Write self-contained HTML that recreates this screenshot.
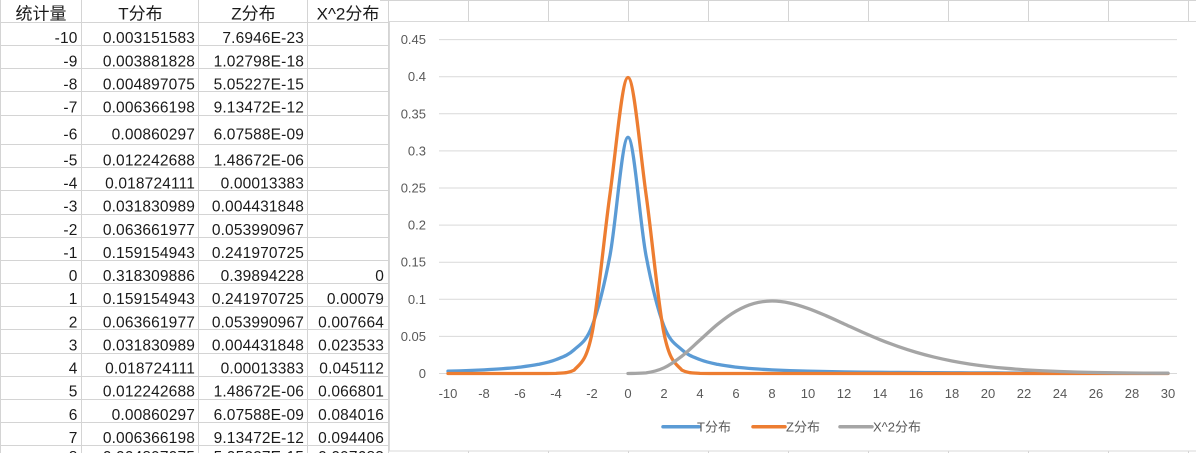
<!DOCTYPE html>
<html><head><meta charset="utf-8">
<style>
html,body{margin:0;padding:0;background:#fff;width:1196px;height:453px;overflow:hidden}
svg{display:block}
.c{font-family:"Liberation Sans","Noto Sans CJK SC",sans-serif;font-size:15.5px;letter-spacing:0.15px;fill:#1a1a1a;text-anchor:end}
.h{font-family:"Liberation Sans","Noto Sans CJK SC",sans-serif;font-size:17px;fill:#1a1a1a;text-anchor:middle}
.ax{font-family:"Liberation Sans","Noto Sans CJK SC",sans-serif;font-size:13px;fill:#595959}
</style></head><body>
<svg id="s" width="1196" height="453" viewBox="0 0 1196 453" xmlns="http://www.w3.org/2000/svg">
<rect x="0" y="0" width="1196" height="453" fill="#fff"/>
<g stroke="#D4D4D4" stroke-width="1">
<line x1="0.5" y1="0" x2="0.5" y2="453"/>
<line x1="81.5" y1="0" x2="81.5" y2="453"/>
<line x1="198.5" y1="0" x2="198.5" y2="453"/>
<line x1="307.5" y1="0" x2="307.5" y2="453"/>
<line x1="388.5" y1="0" x2="388.5" y2="453"/>
<line x1="380" y1="0.5" x2="1196" y2="0.5"/>
<line x1="0" y1="22.5" x2="389" y2="22.5"/>
<line x1="0" y1="45.5" x2="389" y2="45.5"/>
<line x1="0" y1="68.5" x2="389" y2="68.5"/>
<line x1="0" y1="91.5" x2="389" y2="91.5"/>
<line x1="0" y1="115.5" x2="389" y2="115.5"/>
<line x1="0" y1="144.5" x2="389" y2="144.5"/>
<line x1="0" y1="167.5" x2="389" y2="167.5"/>
<line x1="0" y1="190.5" x2="389" y2="190.5"/>
<line x1="0" y1="214.5" x2="389" y2="214.5"/>
<line x1="0" y1="237.5" x2="389" y2="237.5"/>
<line x1="0" y1="260.5" x2="389" y2="260.5"/>
<line x1="0" y1="283.5" x2="389" y2="283.5"/>
<line x1="0" y1="306.5" x2="389" y2="306.5"/>
<line x1="0" y1="329.5" x2="389" y2="329.5"/>
<line x1="0" y1="353.5" x2="389" y2="353.5"/>
<line x1="0" y1="376.5" x2="389" y2="376.5"/>
<line x1="0" y1="399.5" x2="389" y2="399.5"/>
<line x1="0" y1="422.5" x2="389" y2="422.5"/>
<line x1="0" y1="445.5" x2="389" y2="445.5"/>
<line x1="468.5" y1="0" x2="468.5" y2="453"/>
<line x1="548.5" y1="0" x2="548.5" y2="453"/>
<line x1="628.5" y1="0" x2="628.5" y2="453"/>
<line x1="708.5" y1="0" x2="708.5" y2="453"/>
<line x1="788.5" y1="0" x2="788.5" y2="453"/>
<line x1="868.5" y1="0" x2="868.5" y2="453"/>
<line x1="948.5" y1="0" x2="948.5" y2="453"/>
<line x1="1028.5" y1="0" x2="1028.5" y2="453"/>
<line x1="1108.5" y1="0" x2="1108.5" y2="453"/>
<line x1="1188.5" y1="0" x2="1188.5" y2="453"/>
</g>

<!-- header -->
<text class="h" x="41" y="19.5">统计量</text>
<text class="h" x="140.5" y="19.5">T分布</text>
<text class="h" x="253.5" y="19.5">Z分布</text>
<text class="h" x="348" y="19.5">X^2分布</text>

<!-- rows -->
<text class="c" x="77.5" y="43.2">-10</text><text class="c" x="195" y="43.2">0.003151583</text><text class="c" x="304" y="43.2">7.6946E-23</text>
<text class="c" x="77.5" y="66.3">-9</text><text class="c" x="195" y="66.3">0.003881828</text><text class="c" x="304" y="66.3">1.02798E-18</text>
<text class="c" x="77.5" y="89.5">-8</text><text class="c" x="195" y="89.5">0.004897075</text><text class="c" x="304" y="89.5">5.05227E-15</text>
<text class="c" x="77.5" y="112.6">-7</text><text class="c" x="195" y="112.6">0.006366198</text><text class="c" x="304" y="112.6">9.13472E-12</text>
<text class="c" x="77.5" y="139.3">-6</text><text class="c" x="195" y="139.3">0.00860297</text><text class="c" x="304" y="139.3">6.07588E-09</text>
<text class="c" x="77.5" y="165.4">-5</text><text class="c" x="195" y="165.4">0.012242688</text><text class="c" x="304" y="165.4">1.48672E-06</text>
<text class="c" x="77.5" y="188.6">-4</text><text class="c" x="195" y="188.6">0.018724111</text><text class="c" x="304" y="188.6">0.00013383</text>
<text class="c" x="77.5" y="211.7">-3</text><text class="c" x="195" y="211.7">0.031830989</text><text class="c" x="304" y="211.7">0.004431848</text>
<text class="c" x="77.5" y="234.8">-2</text><text class="c" x="195" y="234.8">0.063661977</text><text class="c" x="304" y="234.8">0.053990967</text>
<text class="c" x="77.5" y="258">-1</text><text class="c" x="195" y="258">0.159154943</text><text class="c" x="304" y="258">0.241970725</text>
<text class="c" x="77.5" y="281.1">0</text><text class="c" x="195" y="281.1">0.318309886</text><text class="c" x="304" y="281.1">0.39894228</text><text class="c" x="384" y="281.1">0</text>
<text class="c" x="77.5" y="304.2">1</text><text class="c" x="195" y="304.2">0.159154943</text><text class="c" x="304" y="304.2">0.241970725</text><text class="c" x="384" y="304.2">0.00079</text>
<text class="c" x="77.5" y="327.3">2</text><text class="c" x="195" y="327.3">0.063661977</text><text class="c" x="304" y="327.3">0.053990967</text><text class="c" x="384" y="327.3">0.007664</text>
<text class="c" x="77.5" y="350.5">3</text><text class="c" x="195" y="350.5">0.031830989</text><text class="c" x="304" y="350.5">0.004431848</text><text class="c" x="384" y="350.5">0.023533</text>
<text class="c" x="77.5" y="373.6">4</text><text class="c" x="195" y="373.6">0.018724111</text><text class="c" x="304" y="373.6">0.00013383</text><text class="c" x="384" y="373.6">0.045112</text>
<text class="c" x="77.5" y="396.7">5</text><text class="c" x="195" y="396.7">0.012242688</text><text class="c" x="304" y="396.7">1.48672E-06</text><text class="c" x="384" y="396.7">0.066801</text>
<text class="c" x="77.5" y="419.8">6</text><text class="c" x="195" y="419.8">0.00860297</text><text class="c" x="304" y="419.8">6.07588E-09</text><text class="c" x="384" y="419.8">0.084016</text>
<text class="c" x="77.5" y="443">7</text><text class="c" x="195" y="443">0.006366198</text><text class="c" x="304" y="443">9.13472E-12</text><text class="c" x="384" y="443">0.094406</text>
<text class="c" x="77.5" y="462">8</text><text class="c" x="195" y="462">0.004897075</text><text class="c" x="304" y="462">5.05227E-15</text><text class="c" x="384" y="462">0.097683</text>

<!-- chart -->
<rect x="389.5" y="21.5" width="820" height="429.5" fill="#fff" stroke="#D9D9D9" stroke-width="1"/>
<g stroke="#D9D9D9" stroke-width="1">
<line x1="439" y1="373.5" x2="1177" y2="373.5"/>
<line x1="439" y1="336.4" x2="1177" y2="336.4"/>
<line x1="439" y1="299.3" x2="1177" y2="299.3"/>
<line x1="439" y1="262.2" x2="1177" y2="262.2"/>
<line x1="439" y1="225.1" x2="1177" y2="225.1"/>
<line x1="439" y1="188" x2="1177" y2="188"/>
<line x1="439" y1="150.9" x2="1177" y2="150.9"/>
<line x1="439" y1="113.8" x2="1177" y2="113.8"/>
<line x1="439" y1="76.7" x2="1177" y2="76.7"/>
<line x1="439" y1="39.6" x2="1177" y2="39.6"/>
</g>
<g class="ax" text-anchor="end">
<text x="426" y="378">0</text>
<text x="426" y="340.9">0.05</text>
<text x="426" y="303.8">0.1</text>
<text x="426" y="266.7">0.15</text>
<text x="426" y="229.6">0.2</text>
<text x="426" y="192.5">0.25</text>
<text x="426" y="155.4">0.3</text>
<text x="426" y="118.3">0.35</text>
<text x="426" y="81.2">0.4</text>
<text x="426" y="44.1">0.45</text>
</g>
<g class="ax" text-anchor="middle">
<text x="448" y="398">-10</text>
<text x="484" y="398">-8</text>
<text x="520" y="398">-6</text>
<text x="556" y="398">-4</text>
<text x="592" y="398">-2</text>
<text x="628" y="398">0</text>
<text x="664" y="398">2</text>
<text x="700" y="398">4</text>
<text x="736" y="398">6</text>
<text x="772" y="398">8</text>
<text x="808" y="398">10</text>
<text x="844" y="398">12</text>
<text x="880" y="398">14</text>
<text x="916" y="398">16</text>
<text x="952" y="398">18</text>
<text x="988" y="398">20</text>
<text x="1024" y="398">22</text>
<text x="1060" y="398">24</text>
<text x="1096" y="398">26</text>
<text x="1132" y="398">28</text>
<text x="1168" y="398">30</text>
</g>
<path id="pT" d="" fill="none" stroke="#5B9BD5" stroke-width="3.3" stroke-linecap="round" stroke-linejoin="round"/>
<path id="pZ" d="" fill="none" stroke="#ED7D31" stroke-width="3.3" stroke-linecap="round" stroke-linejoin="round"/>
<path id="pX" d="" fill="none" stroke="#A5A5A5" stroke-width="3.3" stroke-linecap="round" stroke-linejoin="round"/>

<!-- legend -->
<line x1="663" y1="426.7" x2="699" y2="426.7" stroke="#5B9BD5" stroke-width="3.5" stroke-linecap="round"/>
<text class="ax" x="697" y="431.3">T分布</text>
<line x1="753" y1="426.7" x2="785" y2="426.7" stroke="#ED7D31" stroke-width="3.5" stroke-linecap="round"/>
<text class="ax" x="786" y="431.3">Z分布</text>
<line x1="840" y1="426.7" x2="872" y2="426.7" stroke="#A5A5A5" stroke-width="3.5" stroke-linecap="round"/>
<text class="ax" x="873" y="431.3">X^2分布</text>
</svg>
<script>
(function(){
  function X(x){return 448+(x+10)*18;}
  function Y(v){return 373.5-v*742;}
  function cl(v,a,b){var lo=Math.min(a,b),hi=Math.max(a,b);return Math.max(lo,Math.min(hi,v));}
  function build(pts){
    var d='M'+pts[0][0].toFixed(2)+' '+pts[0][1].toFixed(2);
    for(var i=0;i<pts.length-1;i++){
      var p0=pts[i-1]||pts[i],p1=pts[i],p2=pts[i+1],p3=pts[i+2]||pts[i+1];
      var c1x=p1[0]+(p2[0]-p0[0])/6,c1y=p1[1]+(p2[1]-p0[1])/6;
      var c2x=p2[0]-(p3[0]-p1[0])/6,c2y=p2[1]-(p3[1]-p1[1])/6;
      c1y=cl(c1y,p1[1],p2[1]);c2y=cl(c2y,p1[1],p2[1]);
      d+=' C'+c1x.toFixed(2)+' '+c1y.toFixed(2)+' '+c2x.toFixed(2)+' '+c2y.toFixed(2)+' '+p2[0].toFixed(2)+' '+p2[1].toFixed(2);
    }
    return d;
  }
  var T=[],Z=[],C=[];
  for(var x=-10;x<=30;x++){
    T.push([X(x),Y(1/(Math.PI*(1+x*x)))]);
    Z.push([X(x),Y(Math.exp(-x*x/2)/Math.sqrt(2*Math.PI))]);
    if(x>=0){C.push([X(x),Y(Math.pow(x,4)*Math.exp(-x/2)/768)]);}
  }
  document.getElementById('pT').setAttribute('d',build(T));
  document.getElementById('pZ').setAttribute('d',build(Z));
  document.getElementById('pX').setAttribute('d',build(C));
})();
</script>
</body></html>
